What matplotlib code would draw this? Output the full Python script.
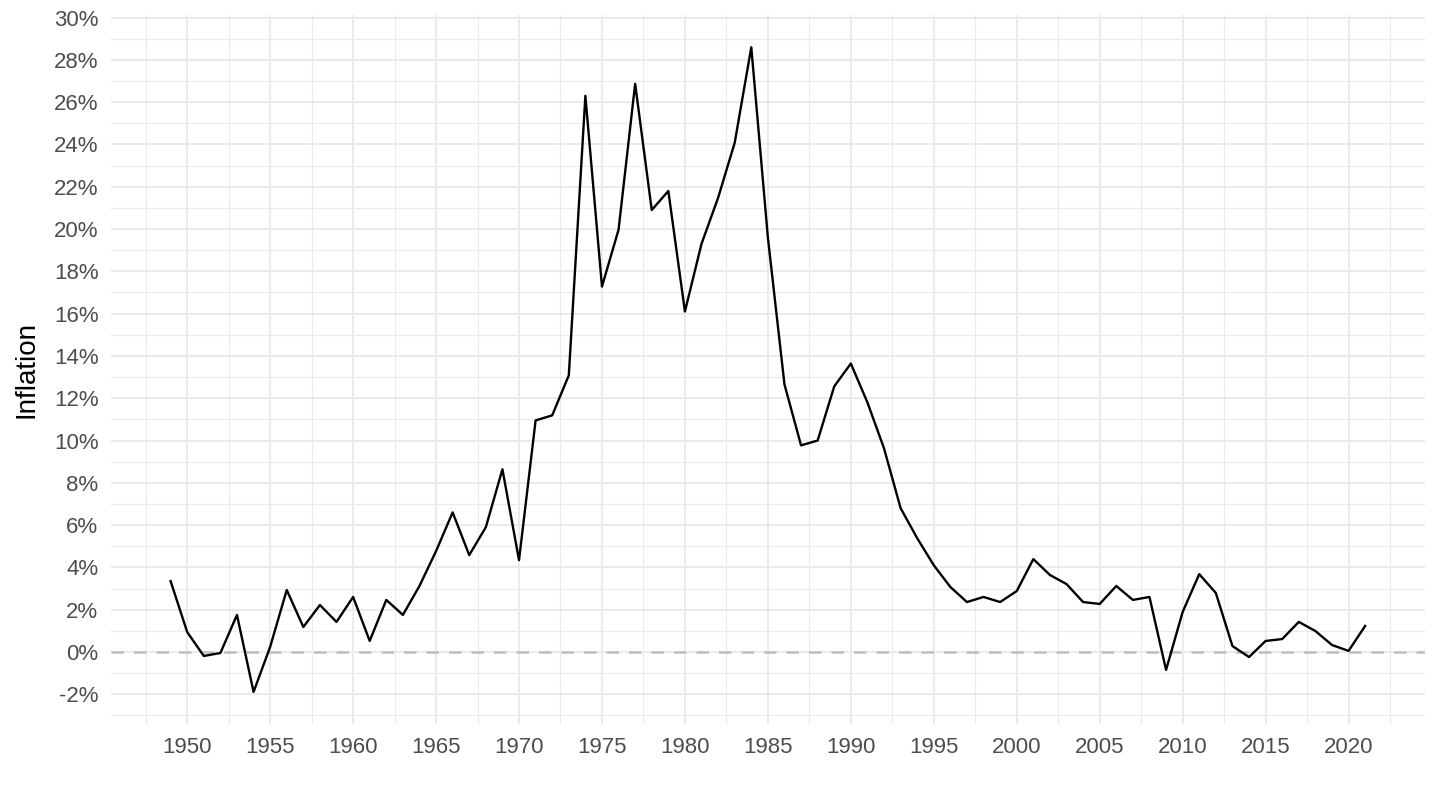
import numpy as np
import matplotlib
matplotlib.use("Agg")
import matplotlib.pyplot as plt
from matplotlib.ticker import MultipleLocator, FuncFormatter

plt.rcParams['font.family'] = ['Liberation Sans', 'DejaVu Sans']

# annual inflation, %
years = list(range(1949, 2022))
inflation = [
    3.35, 0.94, -0.19, -0.05, 1.75, -1.89, 0.24, 2.93, 1.18, 2.22,   # 1949-1958
    1.42, 2.60, 0.52, 2.46, 1.75, 3.12, 4.77, 6.60, 4.58, 5.90,      # 1959-1968
    8.64, 4.34, 10.95, 11.19, 13.08, 26.30, 17.28, 19.97, 26.87, 20.90,  # 1969-1978
    21.80, 16.10, 19.30, 21.48, 24.08, 28.60, 19.60, 12.65, 9.77, 10.00,  # 1979-1988
    12.56, 13.64, 11.80, 9.63, 6.80, 5.38, 4.10, 3.07, 2.36, 2.60,   # 1989-1998
    2.36, 2.88, 4.39, 3.64, 3.21, 2.36, 2.27, 3.12, 2.46, 2.60,      # 1999-2008
    -0.85, 1.89, 3.68, 2.79, 0.28, -0.24, 0.52, 0.61, 1.42, 0.99,    # 2009-2018
    0.33, 0.05, 1.23,                                                 # 2019-2021
]

fig = plt.figure(figsize=(14.4, 8.1), dpi=100)
ax = fig.add_axes([0.077, 0.106, 0.9125, 0.8755])

ax.axhline(0, color='#BEBEBE', lw=1.8, ls=(0, (5, 4)), zorder=2)
ax.plot(years, inflation, color='black', lw=1.7, zorder=3)

# ggplot-like 5% expansion on both axes
xr = years[-1] - years[0]
ax.set_xlim(years[0] - 0.05 * xr, years[-1] + 0.05 * xr)
yr = max(inflation) - min(inflation)
ax.set_ylim(min(inflation) - 0.05 * yr, max(inflation) + 0.05 * yr)

ax.xaxis.set_major_locator(MultipleLocator(5))
ax.xaxis.set_minor_locator(MultipleLocator(2.5))
ax.yaxis.set_major_locator(MultipleLocator(2))
ax.yaxis.set_minor_locator(MultipleLocator(1))
ax.yaxis.set_major_formatter(FuncFormatter(lambda v, p: f"{v:.0f}%"))

ax.grid(which='major', color='#EBEBEB', lw=1.4, zorder=0)
ax.grid(which='minor', color='#EBEBEB', lw=0.8, zorder=0)
ax.set_axisbelow(True)

for s in ax.spines.values():
    s.set_visible(False)
ax.tick_params(which='both', length=0)
ax.tick_params(axis='x', labelsize=16, labelcolor='#4D4D4D', pad=9)
ax.tick_params(axis='y', labelsize=16, labelcolor='#4D4D4D', pad=9)

ax.set_ylabel('Inflation', fontsize=20, color='black', labelpad=10)
ax.set_xlabel('')

fig.savefig('out.png', dpi=100)
